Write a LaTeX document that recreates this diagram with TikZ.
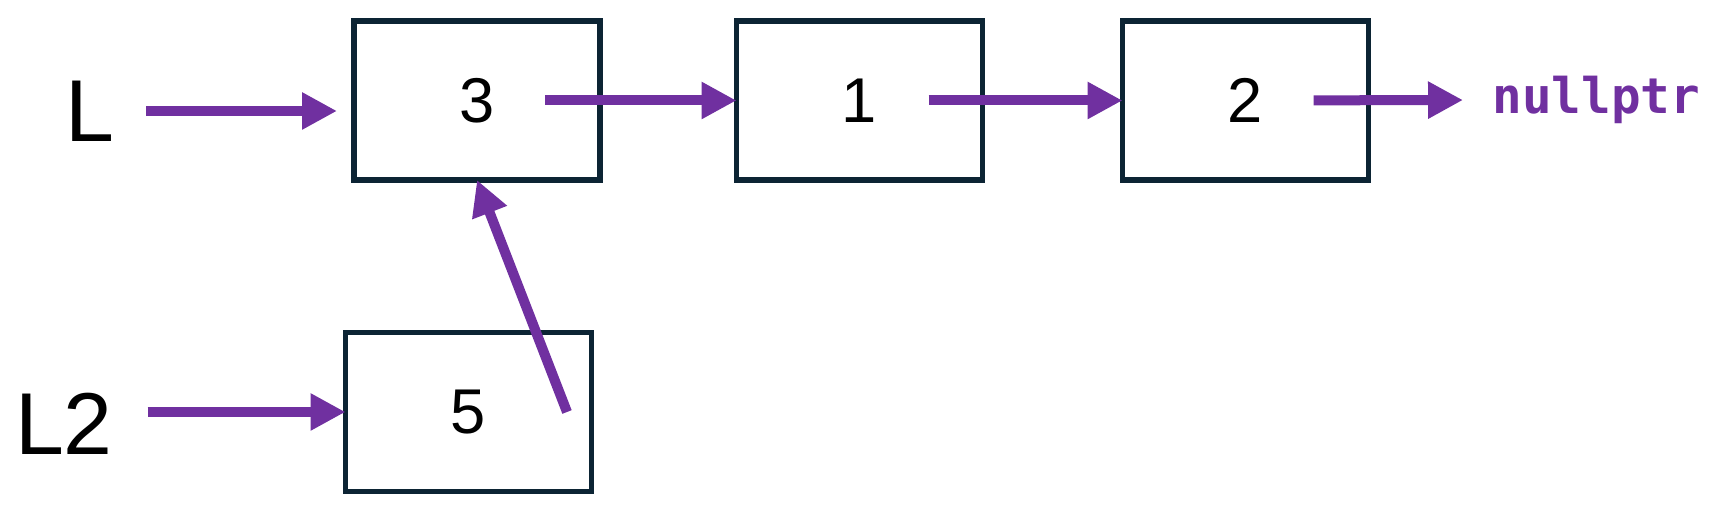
\documentclass[tikz,border=0pt]{standalone}
\usepackage{fontspec}
\setmainfont{Liberation Sans}
\setmonofont{DejaVu Sans Mono}
\definecolor{ptrpurple}{RGB}{112, 48, 160}
\definecolor{boxnavy}{RGB}{12, 36, 52}
\usepackage{tikz}
\usetikzlibrary{arrows.meta, positioning, calc}

\begin{document}
\begin{tikzpicture}[
    cell/.style={draw=boxnavy, line width=0.055cm, minimum width=2.46cm, minimum height=1.59cm,
                 outer sep=0pt, font=\fontsize{18}{21}\selectfont},
    listname/.style={inner sep=0pt, font=\fontsize{25}{30}\selectfont},
    ptr/.style={ptrpurple, line width=0.1cm, -{Triangle[length=0.35cm, width=0.35cm]}}
]
                    \useasboundingbox (0, 0) rectangle (17.36, 5.12);
                    % list nodes
                    \node[cell] (n3) at (4.77, 4.115) {3};
                    \node[cell] (n1) at (8.595, 4.115) {1};
                    \node[cell] (n2) at (12.455, 4.115) {2};
                    \node[cell] (n5) at (4.685, 1.0) {5};
                    \node[listname] (lab L) at (0.90, 4.01) {L};
                    \node[listname] (lab L2) at (0.64, 0.88) {L2};
                    \node[inner sep=0pt, anchor=west, text=ptrpurple, font=\fontsize{14}{16}\selectfont\ttfamily\bfseries] (null) at (14.92, 4.12) {nullptr};
                    \coordinate (tail5) at ($(n5.center) + (0.985, 0.0)$);
                    % pointers
                    \draw[ptr, shorten <=0.31cm, shorten >=0.17cm] (lab L.east) -- (lab L.east -| n3.west);
                    \draw[ptr, shorten <=0.34cm] (lab L2.east |- n5.center) -- (n5.west);
                    \draw[ptr, shorten <=0.68cm] (n3.center) -- (n1.west);
                    \draw[ptr, shorten <=0.69cm] (n1.center) -- (n2.west);
                    \draw[ptr, shorten <=0.68cm, shorten >=0.29cm] (n2.center) -- (null.west);
                    \draw[ptr] (tail5) -- (n3.south);
\end{tikzpicture}
\end{document}
